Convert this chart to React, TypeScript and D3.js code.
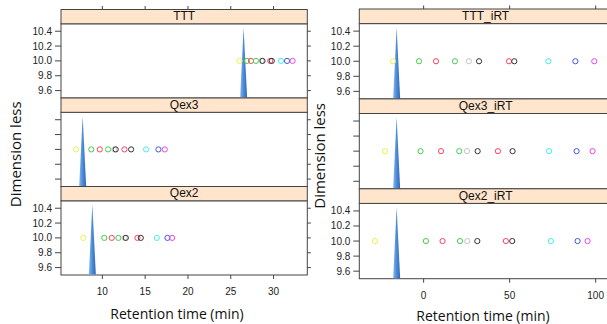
import React from "react";
import * as d3 from "d3";

const panelNamesLeft = ["TTT", "Qex3", "Qex2"];
const panelNamesRight = ["TTT_iRT", "Qex3_iRT", "Qex2_iRT"];
const peptideColors = ["#eeee55", "#44cc44", "#ff4060", "#44cc55", "#c4c4c4", "#333333", "#ff4060", "#333333", "#44eeee", "#4455e0", "#ee44ee"];

const leftTTT = [26.02, 26.89, 27.36, 27.94, 28.6, 28.71, 29.61, 29.79, 30.87, 31.57, 32.22];
const leftQex3 = [6.92, 8.71, 9.7, 10.67, 11.4, 11.56, 12.58, 13.36, 15.11, 16.55, 17.29];
const leftQex2 = [7.78, 10.23, 11.1, 11.87, 12.6, 12.74, 14.1, 14.49, 16.36, 17.6, 18.15];
const leftPeaks = [26.5, 7.7, 8.83];

const rightTTT = [-17.8, -2.7, 7.2, 18.2, 26.3, 32.2, 49.6, 52.7, 72.5, 88.2, 99.2];
const rightQex3 = [-22.5, -1.8, 10.1, 20.7, 25.2, 31.4, 43.2, 51.7, 72.9, 88.9, 98.2];
const rightQex2 = [-28.3, 1.3, 11.0, 21.1, 25.4, 31.2, 47.8, 51.5, 74.0, 89.5, 95.3];
const rightPeaks = [-15.7, -15.7, -15.7];

const pointLevel = 10;
const peakTop = 10.45;
const yTicks = [9.6, 9.8, 10.0, 10.2, 10.4];
const leftXTicks = [10, 15, 20, 25, 30];
const rightXTicks = [0, 50, 100];

const xTitle = "Retention time (min)";
const yTitle = "Dimension less";

type ChartProps = {
  names: string[];
  series: number[][];
  peaks: number[];
  xDomain: [number, number];
  xRange: [number, number];
  xTicks: number[];
  top: number;
  stripH: number;
  panelH: number;
  showRightTicks: boolean;
  yTitleX: number;
  id: string;
};

const Chart = (p: ChartProps) => {
  const x = d3.scaleLinear().domain(p.xDomain).range(p.xRange);
  const [x0, x1] = p.xRange;
  const border = "#444";
  const tickFont = "'Liberation Sans', Arial, sans-serif";
  const bottom = p.top + 3 * (p.stripH + p.panelH);
  return (
    <g>
      {p.xTicks.map((t) => (
        <line key={"tt" + t} x1={x(t)} x2={x(t)} y1={p.top - 3.5} y2={p.top} stroke={border} strokeWidth={1} />
      ))}
      {p.names.map((name, i) => {
        const sTop = p.top + i * (p.stripH + p.panelH);
        const pTop = sTop + p.stripH;
        const pBot = pTop + p.panelH;
        const y = d3.scaleLinear().domain([9.5, 10.5]).range([pBot, pTop]);
        const px = x(p.peaks[i]);
        const hw = 3.5;
        return (
          <g key={name}>
            <rect x={x0} y={pTop} width={x1 - x0} height={p.panelH} fill="#fff" stroke={border} strokeWidth={1} />
            <rect x={x0} y={sTop} width={x1 - x0} height={p.stripH} fill="#ffe5cc" stroke={border} strokeWidth={1} />
            <text x={(x0 + x1) / 2} y={sTop + p.stripH / 2 + 3.6} textAnchor="middle" fontFamily={tickFont} fontSize={12} fill="#111">
              {name}
            </text>
            {yTicks.map((t) => (
              <g key={"yt" + t}>
                <line x1={x0 - 6} x2={x0} y1={y(t)} y2={y(t)} stroke={border} strokeWidth={1} />
                {p.showRightTicks && <line x1={x1} x2={x1 + 3.5} y1={y(t)} y2={y(t)} stroke={border} strokeWidth={1} />}
                {i !== 1 && (
                  <text x={x0 - 9} y={y(t) + 3.5} textAnchor="end" fontFamily={tickFont} fontSize={10} fill="#222">
                    {t.toFixed(1)}
                  </text>
                )}
              </g>
            ))}
            <path
              d={`M${px - hw},${pBot - 0.5} L${px},${y(peakTop)} L${px + hw},${pBot - 0.5} Z`}
              fill={`url(#grad${p.id})`}
            />
            {p.series[i].map((v, j) => (
              <circle key={j} cx={x(v)} cy={y(pointLevel)} r={2.6} fill="none" stroke={peptideColors[j]} strokeWidth={1} />
            ))}
          </g>
        );
      })}
      {p.xTicks.map((t) => (
        <g key={"bt" + t}>
          <line x1={x(t)} x2={x(t)} y1={bottom} y2={bottom + 4} stroke={border} strokeWidth={1} />
          <text x={x(t)} y={bottom + 20} textAnchor="middle" fontFamily={tickFont} fontSize={10} fill="#222">
            {t}
          </text>
        </g>
      ))}
      <text
        transform={`translate(${p.yTitleX},${(p.top + bottom) / 2 + 12}) rotate(-90)`}
        textAnchor="middle"
        fontFamily="'Open Sans', 'Noto Sans', sans-serif"
        fontSize={15}
        fill="#111"
      >
        {yTitle}
      </text>
    </g>
  );
};

export default function App() {
  const leftX = d3.scaleLinear().domain([5.17, 33.94]).range([61, 307.3]);
  const rightX = d3.scaleLinear().domain([-37.4, 109.5]).range([359.3, 612]);
  return (
    <svg width={607} height={324} style={{ position: "absolute", left: 0, top: 0, background: "#fff" }}>
      <defs>
        {["L", "R"].map((id) => (
          <linearGradient key={id} id={"grad" + id} x1="0" y1="0" x2="1" y2="0">
            <stop offset="0" stopColor="#8ab8ea" />
            <stop offset="0.45" stopColor="#4f8fdb" />
            <stop offset="1" stopColor="#2d68b8" />
          </linearGradient>
        ))}
      </defs>
      <Chart
        id="L"
        names={panelNamesLeft}
        series={[leftTTT, leftQex3, leftQex2]}
        peaks={leftPeaks}
        xDomain={leftX.domain() as [number, number]}
        xRange={[61, 307.3]}
        xTicks={leftXTicks}
        top={9.5}
        stripH={14.3}
        panelH={74.2}
        showRightTicks={true}
        yTitleX={21}
      />
      <Chart
        id="R"
        names={panelNamesRight}
        series={[rightTTT, rightQex3, rightQex2]}
        peaks={rightPeaks}
        xDomain={rightX.domain() as [number, number]}
        xRange={[359.3, 612]}
        xTicks={rightXTicks}
        top={9}
        stripH={14.6}
        panelH={75.3}
        showRightTicks={false}
        yTitleX={325}
      />
      <text x={177} y={319} textAnchor="middle" fontFamily="'Open Sans', 'Noto Sans', sans-serif" fontSize={14} fill="#111">
        {xTitle}
      </text>
      <text x={483} y={321} textAnchor="middle" fontFamily="'Open Sans', 'Noto Sans', sans-serif" fontSize={14} fill="#111">
        {xTitle}
      </text>
    </svg>
  );
}
